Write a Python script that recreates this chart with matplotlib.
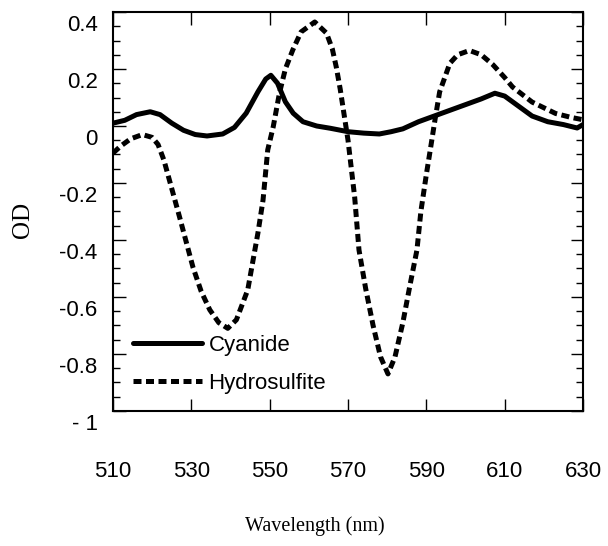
import matplotlib
matplotlib.use("Agg")
import matplotlib.pyplot as plt
import matplotlib.transforms as mtransforms
import numpy as np

# Cyanide difference spectrum (solid)
cyan_wl = [510, 513, 516, 519.5, 522, 525, 528, 531, 534, 538, 541, 544, 547, 549,
           550.3, 552, 554, 556, 558.5, 562, 565.5, 570, 574, 578, 581, 584, 588,
           593, 597, 600, 604, 607.5, 610, 613, 617, 621, 625, 628.5, 630]
cyan_od = [0.01, 0.02, 0.04, 0.05, 0.04, 0.01, -0.015, -0.03, -0.035, -0.028, -0.005,
           0.045, 0.12, 0.165, 0.178, 0.15, 0.085, 0.045, 0.015, 0.0, -0.008, -0.02,
           -0.025, -0.028, -0.02, -0.01, 0.015, 0.04, 0.06, 0.075, 0.095, 0.115,
           0.105, 0.075, 0.035, 0.015, 0.005, -0.007, 0.005]

# Hydrosulfite difference spectrum (dashed)
hydro_wl = [510, 512, 514.5, 517.5, 520, 521.5, 523, 525.3, 527, 530.4, 532.5, 534.7,
            537, 539.3, 541.5, 544.4, 547, 548.3, 549.5, 550.9, 552.5, 554, 555.9,
            558, 561.5, 564.5, 566, 567, 568, 570, 571.7, 572.8, 574.5, 576.4, 578.3,
            580.2, 582, 584, 585.8, 587.6, 588.6, 590, 591, 592.3, 593.4, 596, 598,
            601, 604, 607, 610, 612, 617, 623, 627, 630]
hydro_od = [-0.095, -0.07, -0.045, -0.03, -0.04, -0.065, -0.12, -0.235, -0.32, -0.495,
            -0.58, -0.645, -0.69, -0.71, -0.68, -0.575, -0.375, -0.26, -0.084, -0.003,
            0.116, 0.2, 0.267, 0.33, 0.365, 0.326, 0.27, 0.207, 0.13, -0.05, -0.25,
            -0.435, -0.57, -0.7, -0.81, -0.87, -0.81, -0.69, -0.56, -0.435, -0.3, -0.17,
            -0.084, 0.03, 0.12, 0.22, 0.25, 0.265, 0.25, 0.215, 0.17, 0.137, 0.084,
            0.044, 0.03, 0.022]

xticks = [510, 530, 550, 570, 590, 610, 630]
yticks = [-1, -0.8, -0.6, -0.4, -0.2, 0, 0.2, 0.4]
ylabels = ['- 1', '-0.8', '-0.6', '-0.4', '-0.2', '0', '0.2', '0.4']

fig = plt.figure(figsize=(6.08, 5.46), dpi=100)
ax = fig.add_axes([0.1859, 0.2473, 0.773, 0.7307])

ax.plot(cyan_wl, cyan_od, color='black', lw=3.6, solid_capstyle='round',
        label='Cyanide')
ax.plot(hydro_wl, hydro_od, color='black', lw=3.6, linestyle=(0, (1.6, 0.9)),
        label='Hydrosulfite')

ax.set_xlim(510, 630)
ax.set_ylim(-1, 0.4)

tickfont = dict(family='Liberation Sans', size=16)
ax.set_xticks(xticks)
ax.set_xticklabels([str(t) for t in xticks], fontdict=tickfont)
ax.set_yticks(yticks)
ax.set_yticklabels(ylabels, fontdict=tickfont)
ax.set_yticks(np.arange(-1, 0.41, 0.05), minor=True)

ax.tick_params(axis='both', which='major', direction='in', top=True, right=True,
               length=9, width=1)
ax.tick_params(axis='y', which='minor', direction='in', right=True, length=5, width=1)
ax.tick_params(axis='x', which='major', pad=36)
ax.tick_params(axis='y', which='major', pad=11)

# y tick labels sit a bit below their ticks in the original
offset = mtransforms.ScaledTranslation(0, -8 / 72, fig.dpi_scale_trans)
for lab in ax.get_yticklabels():
    lab.set_transform(lab.get_transform() + offset)

for s in ax.spines.values():
    s.set_linewidth(1.5)

ax.set_xlabel('Wavelength (nm)', family='Liberation Serif', fontsize=14.5)
ax.xaxis.set_label_coords(0.43, -0.265)
ax.set_ylabel('OD', family='Liberation Serif', fontsize=18)
ax.yaxis.set_label_coords(-0.168, 0.48)

leg = ax.legend(loc='lower left', bbox_to_anchor=(0.0425, 0.043), frameon=False,
                prop={'family': 'Liberation Sans', 'size': 16}, handlelength=3.1,
                handletextpad=0.3, labelspacing=0.75, borderpad=0, borderaxespad=0)

fig.savefig('out.png', dpi=100)
